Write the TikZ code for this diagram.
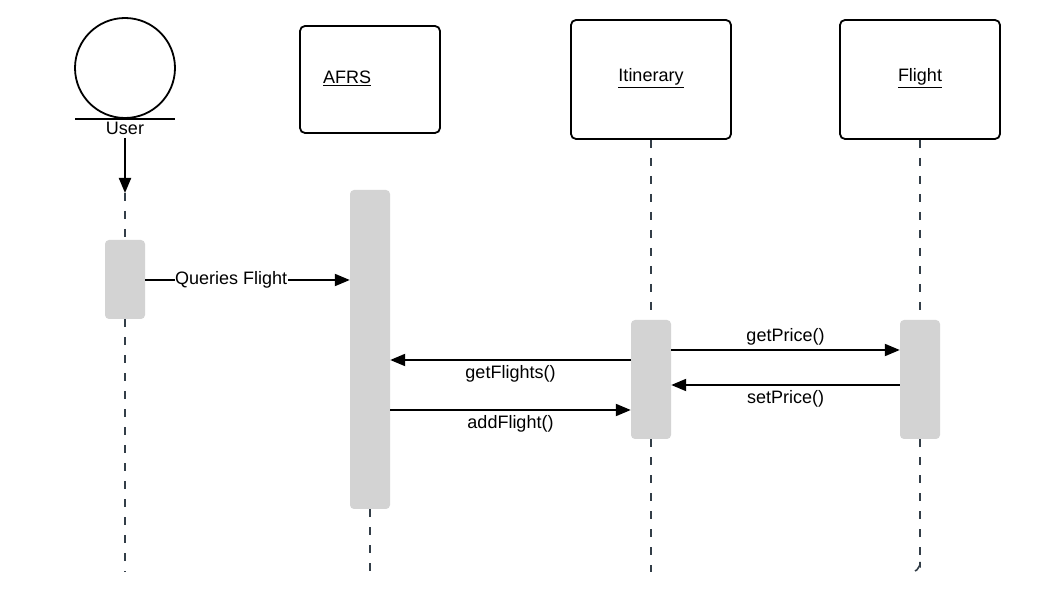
\documentclass[tikz,border=0pt]{standalone}
\usepackage{fontspec}
\setmainfont{Liberation Sans}
\usetikzlibrary{arrows.meta}
\definecolor{life}{HTML}{333E48}
\definecolor{act}{HTML}{D3D3D3}
\tikzset{
  obj/.style={draw=black, line width=1.8pt, rounded corners=5pt, minimum width=#1, inner sep=0pt},
  objbox/.style={obj=160pt, minimum height=119pt},
  activ/.style={fill=act, draw=none, rounded corners=4pt, minimum width=40pt, inner sep=0pt},
  lifeline/.style={draw=life, line width=1.6pt, dash pattern=on 8pt off 10pt},
  msg/.style={draw=black, line width=2pt, -{Triangle[length=15pt,width=12pt]}},
  lbl/.style={font=\fontsize{18pt}{21pt}\selectfont, inner sep=1pt},
}
\begin{document}
\begin{tikzpicture}[x=1pt,y=-1pt]
\useasboundingbox (0,0) rectangle (1037,601);
% User actor
\node[draw=black, line width=1.8pt, circle, minimum size=100pt, inner sep=0pt] (user) at (125,68) {};
\coordinate (ubl) at (75,119);
\coordinate (ubr) at (175,119);
\draw[line width=1.8pt] (ubl) -- (ubr);
\node[lbl] (userlbl) at (125,128) {User};
\coordinate (uarrowstart) at (125,138);
\coordinate (uarrowend) at (125,193);
\draw[msg] (uarrowstart) -- (uarrowend);
% Objects
\node[obj=140pt, minimum height=107pt] (afrs) at (370,79.5) {};
\node[lbl] at (347,78) {\underline{AFRS}};
\node[objbox] (itin) at (651,79.5) {};
\node[lbl] at (651,78) {\underline{Itinerary}};
\node[objbox] (flight) at (920,79.5) {};
\node[lbl] at (920,78) {\underline{Flight}};
% Activations
\node[activ, minimum height=79pt] (uact) at (125,279.5) {};
\node[activ, minimum height=319pt] (aact) at (370,349.5) {};
\node[activ, minimum height=119pt] (iact) at (651,379.5) {};
\node[activ, minimum height=119pt] (fact) at (920,379.5) {};
% Lifelines
\coordinate (uend) at (125,572);
\coordinate (aend) at (370,580);
\coordinate (iend) at (651,572);
\coordinate (fend) at (920,566);
\coordinate (fhook) at (915,571);
\draw[lifeline] (uarrowend) -- (uact.north);
\draw[lifeline] (uact.south) -- (uend);
\draw[lifeline] (aact.south) -- (aend);
\draw[lifeline] (itin.south) -- (iact.north);
\draw[lifeline] (iact.south) -- (iend);
\draw[lifeline] (flight.south) -- (fact.north);
\draw[lifeline] (fact.south) -- (fend);
\draw[draw=life, line width=1.6pt] (fend) ++(0,-4) -- (fend) to[out=90,in=0] (fhook);
% Messages
\draw[msg] (uact.east |- 0,280) -- node[lbl, fill=white, inner sep=0.5pt, pos=0.42] (q) {Queries Flight} (aact.west |- 0,280);
\draw[msg] (iact.east |- 0,350) -- node[lbl, above=3pt] (gp) {getPrice()} (fact.west |- 0,350);
\draw[msg] (fact.west |- 0,385) -- node[lbl, below=3pt] (sp) {setPrice()} (iact.east |- 0,385);
\draw[msg] (iact.west |- 0,360) -- node[lbl, below=3pt] (gf) {getFlights()} (aact.east |- 0,360);
\draw[msg] (aact.east |- 0,410) -- node[lbl, below=3pt] (af) {addFlight()} (iact.west |- 0,410);
\end{tikzpicture}
\end{document}
